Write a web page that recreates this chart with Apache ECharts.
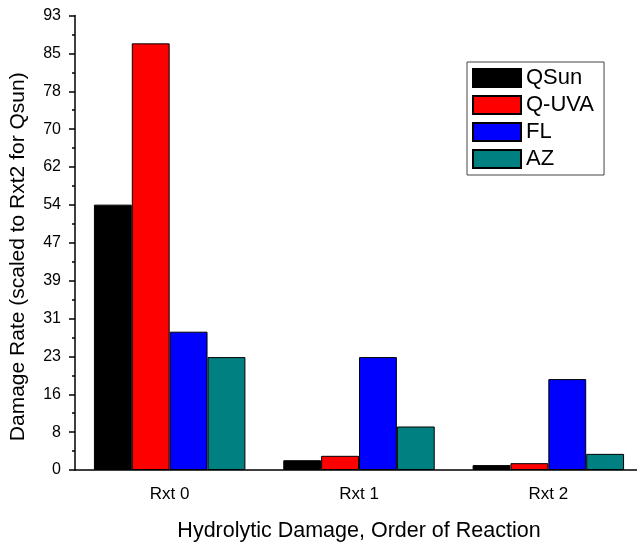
<!DOCTYPE html>
<html>
<head>
<meta charset="utf-8">
<script src="https://cdn.jsdelivr.net/npm/echarts@6/dist/echarts.min.js"></script>
<style>
  html, body { margin: 0; padding: 0; background: #fff; }
  #chart { width: 637px; height: 542px; }
</style>
</head>
<body>
<div id="chart"></div>
<script>
var categories = ['Rxt 0', 'Rxt 1', 'Rxt 2'];
var qsun = [54.3, 2.0, 1.0];
var quva = [87.3, 2.9, 1.4];
var fl = [28.3, 23.1, 18.6];
var az = [23.1, 8.9, 3.3];

var font = 'Liberation Sans, Arial, sans-serif';

function bar(name, data, color) {
  return {
    name: name,
    type: 'bar',
    data: data,
    barGap: 0,
    barCategoryGap: '20%',
    itemStyle: { color: color, borderColor: '#000', borderWidth: 1 },
  };
}

var chart = echarts.init(document.getElementById('chart'));
chart.setOption({
  animation: false,
  legend: {
    orient: 'vertical',
    left: 467,
    top: 62,
    padding: [5, 10, 5, 5],
    itemWidth: 48,
    itemHeight: 18,
    itemGap: 5,
    borderColor: '#444',
    borderWidth: 1,
    icon: 'rect',
    textStyle: { fontFamily: font, fontSize: 22, color: '#000' },
    data: ['QSun', 'Q-UVA', 'FL', 'AZ'],
  },
  grid: { left: 75, right: -6, top: 15.5, bottom: 72, outerBoundsMode: 'none', containLabel: false },
  xAxis: [
    {
      type: 'category',
      data: categories,
      name: 'Hydrolytic Damage, Order of Reaction',
      nameLocation: 'middle',
      nameGap: 50,
      nameTextStyle: { fontFamily: font, fontSize: 21.5, color: '#000' },
      axisLine: { lineStyle: { color: '#000', width: 1.5 } },
      axisTick: { alignWithLabel: true, length: 8, lineStyle: { color: '#000', width: 1.5 } },
      axisLabel: { margin: 16, fontFamily: font, fontSize: 17, color: '#000' },
    },
    {
      // short ticks between categories
      type: 'category',
      data: categories,
      position: 'bottom',
      axisLine: { show: false },
      axisTick: { length: 4, lineStyle: { color: '#000', width: 1.5 } },
      axisLabel: { show: false },
    },
  ],
  yAxis: {
    type: 'value',
    min: 0,
    max: 93,
    interval: 7.75,
    name: 'Damage Rate (scaled to Rxt2 for Qsun)',
    nameLocation: 'middle',
    nameGap: 46,
    nameRotate: 90,
    nameTextStyle: { fontFamily: font, fontSize: 21, color: '#000', padding: [0, 28, 0, 0] },
    axisLine: { show: true, lineStyle: { color: '#000', width: 1.5 } },
    axisTick: { show: true, length: 6, lineStyle: { color: '#000', width: 1.5 } },
    minorTick: { show: true, splitNumber: 2, length: 3, lineStyle: { color: '#000', width: 1.5 } },
    splitLine: { show: false },
    axisLabel: {
      margin: 14,
      fontFamily: font,
      fontSize: 16,
      color: '#000',
      formatter: function (v) { return Math.round(v); },
    },
  },
  series: [
    bar('QSun', qsun, '#000000'),
    bar('Q-UVA', quva, '#ff0000'),
    bar('FL', fl, '#0000ff'),
    bar('AZ', az, '#008080'),
  ],
});
</script>
</body>
</html>
